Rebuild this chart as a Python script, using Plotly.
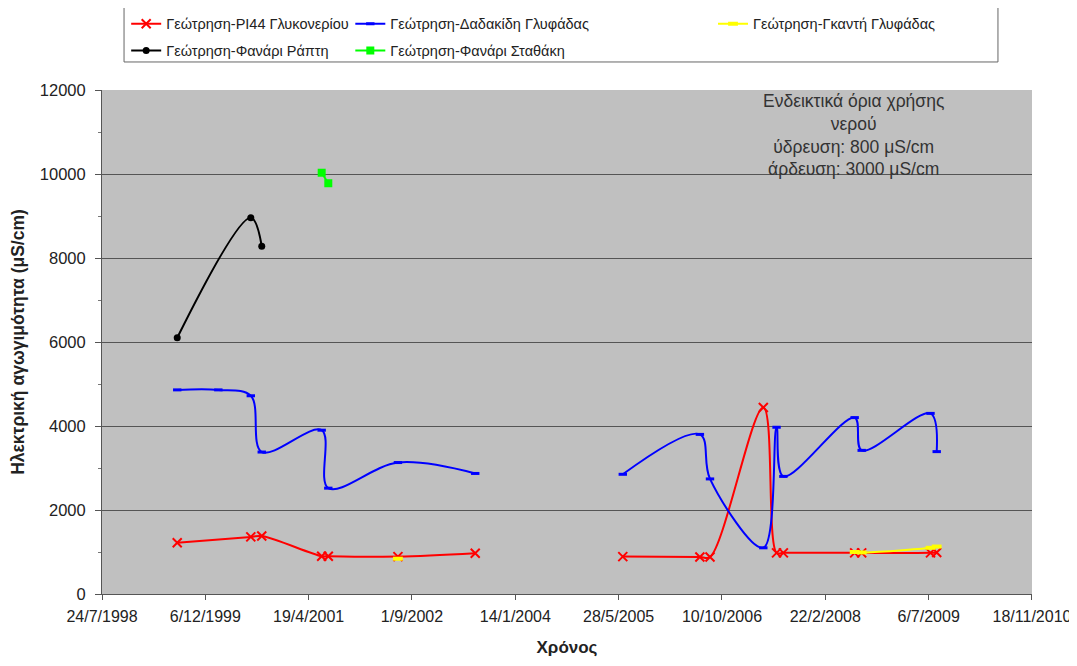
import plotly.graph_objects as go

# ---------- data ----------
red_dates = ["1999-07-23", "2000-07-13", "2000-09-04", "2001-06-21", "2001-07-23",
             "2002-06-25", "2003-07-04", "2004-06-01", "2005-06-17", "2006-06-25",
             "2006-08-13", "2007-04-28", "2007-07-01", "2007-08-03", "2008-07-13",
             "2008-08-16", "2009-07-15", "2009-08-14"]
red_vals = [1220, 1360, 1380, 900, 900,
            890, 970, None, 890, 880,
            880, 4440, 980, 980, 980,
            980, 980, 990]

blue_dates = ["1999-07-23", "2000-02-07", "2000-07-13", "2000-09-04", "2001-06-21",
              "2001-07-23", "2002-06-25", "2003-07-04", "2004-06-01", "2005-06-17",
              "2006-06-25", "2006-08-13", "2007-04-28", "2007-07-01", "2007-08-03",
              "2008-07-13", "2008-08-16", "2009-07-15", "2009-08-14"]
blue_vals = [4860, 4860, 4720, 3380, 3900,
             2520, 3130, 2870, None, 2850,
             3800, 2740, 1100, 3970, 2800,
             4200, 3420, 4300, 3390]

yellow_dates = ["2002-06-25", "2005-01-01", "2008-07-13", "2008-08-16", "2009-07-15", "2009-08-14"]
yellow_vals = [840, None, 1000, 990, 1100, 1130]

black_dates = ["1999-07-23", "2000-07-13", "2000-09-04"]
black_vals = [6100, 8960, 8280]

green_dates = ["2001-06-21", "2001-07-23"]
green_vals = [10030, 9780]

NAMES = ["Γεώτρηση-PI44 Γλυκονερίου", "Γεώτρηση-Δαδακίδη Γλυφάδας", "Γεώτρηση-Γκαντή Γλυφάδας",
         "Γεώτρηση-Φανάρι Ράπτη", "Γεώτρηση-Φανάρι Σταθάκη"]

FONT = "Liberation Sans, Arial, sans-serif"
DAY_MS = 86400000

fig = go.Figure()

# Red - PI44
fig.add_trace(go.Scatter(
    x=red_dates, y=red_vals, mode="lines+markers", name=NAMES[0],
    line=dict(color="#ff0000", width=2, shape="spline"),
    marker=dict(symbol="x-thin-open", size=9, line=dict(color="#ff0000", width=2)),
    legend="legend", legendgroup="g1",
))

# Blue - Dadakidi
fig.add_trace(go.Scatter(
    x=blue_dates, y=blue_vals, mode="lines+markers", name=NAMES[1],
    line=dict(color="#0000ff", width=2, shape="spline"),
    marker=dict(symbol="line-ew-open", size=6, line=dict(color="#0000ff", width=3)),
    legend="legend2", legendgroup="g2",
))

# Yellow - Gkanti
fig.add_trace(go.Scatter(
    x=yellow_dates, y=yellow_vals, mode="lines+markers", name=NAMES[2],
    line=dict(color="#ffff00", width=2, shape="spline"),
    marker=dict(symbol="line-ew-open", size=7, line=dict(color="#ffff00", width=4)),
    legend="legend3", legendgroup="g3",
))

# Black - Fanari Rapti
fig.add_trace(go.Scatter(
    x=black_dates, y=black_vals, mode="lines+markers", name=NAMES[3],
    line=dict(color="#000000", width=2, shape="spline"),
    marker=dict(symbol="circle", size=7, color="#000000"),
    legend="legend", legendgroup="g4",
))

# Green - Fanari Stathaki
fig.add_trace(go.Scatter(
    x=green_dates, y=green_vals, mode="lines+markers", name=NAMES[4],
    line=dict(color="#00ff00", width=2, shape="spline"),
    marker=dict(symbol="square", size=8, color="#00ff00"),
    legend="legend2", legendgroup="g5",
))

leg_common = dict(orientation="v", yanchor="top", xanchor="left", bgcolor="rgba(0,0,0,0)",
                  borderwidth=0, font=dict(family=FONT, size=14.5, color="#222"),
                  tracegroupgap=5, itemwidth=30)

# page body has an 8px margin, so the figure is drawn at (8, 8)
fig.update_layout(
    width=1069, height=650,
    margin=dict(l=94, r=45, t=82, b=64, autoexpand=False),
    paper_bgcolor="white",
    plot_bgcolor="#c0c0c0",
    font=dict(family=FONT, size=15, color="#222"),
    legend=dict(x=0.026, y=1.163, **leg_common),
    legend2=dict(x=0.267, y=1.163, **leg_common),
    legend3=dict(x=0.657, y=1.163, **leg_common),
    xaxis=dict(
        type="date", automargin=False,
        range=["1998-07-24", "2010-11-18 02:00"],
        tick0="1998-07-24", dtick=500 * DAY_MS,
        tickformat="%-d/%-m/%Y",
        ticklabeloverflow="allow",
        showgrid=False, zeroline=False,
        showline=True, linecolor="#555", linewidth=1,
        ticks="outside", ticklen=5, tickcolor="#555",
        ticklabelstandoff=3,
        tickfont=dict(size=16, color="#222"),
        title=dict(text="<b>Χρόνος</b>", font=dict(size=17, color="#222"), standoff=16),
    ),
    yaxis=dict(
        automargin=False,
        range=[0, 12000], dtick=2000, tickformat="d",
        showgrid=True, gridcolor="#555", gridwidth=1,
        zeroline=False,
        showline=True, linecolor="#555", linewidth=1,
        ticks="outside", ticklen=6, tickcolor="#555",
        ticklabelstandoff=6,
        minor=dict(dtick=1000, ticks="outside", ticklen=3, tickcolor="#777", showgrid=False),
        tickfont=dict(size=16.5, color="#222"),
        title=dict(text="<b>Ηλεκτρική αγωγιμότητα (μS/cm)</b>", font=dict(size=17.5, color="#222"), standoff=16),
    ),
    shapes=[dict(type="rect", xref="paper", yref="paper",
                 x0=0.0237, x1=0.9634, y0=1.0556, y1=1.1706,
                 line=dict(color="#666", width=1), fillcolor="rgba(0,0,0,0)")],
    annotations=[dict(
        xref="paper", yref="paper", x=0.8086, y=1.002, xanchor="center", yanchor="top",
        text="Ενδεικτικά όρια χρήσης<br>νερού<br>ύδρευση: 800 μS/cm<br>άρδευση: 3000 μS/cm",
        showarrow=False, align="center", font=dict(family=FONT, size=17.5, color="#333"),
    )],
)

fig.write_html("out.html")
